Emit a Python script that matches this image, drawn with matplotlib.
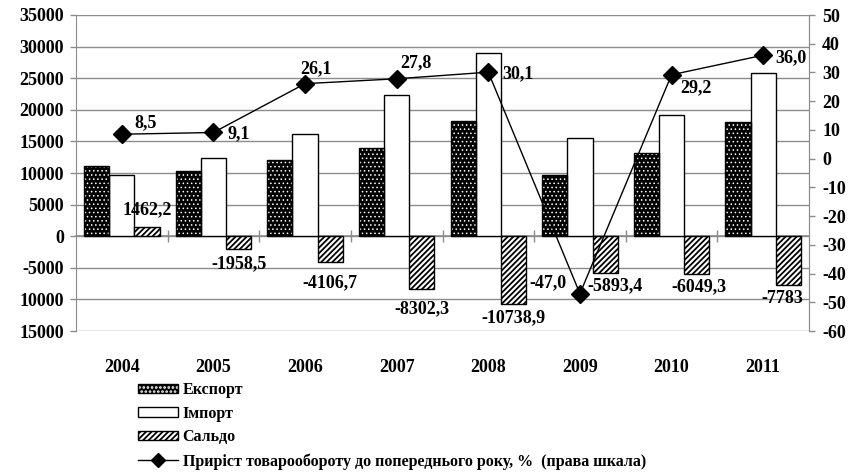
import matplotlib
matplotlib.use("Agg")
import matplotlib.pyplot as plt
import numpy as np
from matplotlib.patches import Patch
from matplotlib.lines import Line2D
from matplotlib.legend_handler import HandlerTuple

# ---- data ----
years = ['2004', '2005', '2006', '2007', '2008', '2009', '2010', '2011']
export = [11100, 10350, 12100, 14000, 18200, 9650, 13200, 18050]
imports = [9640, 12310, 16210, 22300, 28940, 15540, 19250, 25830]
saldo = [1462.2, -1958.5, -4106.7, -8302.3, -10738.9, -5893.4, -6049.3, -7783]
growth = [8.5, 9.1, 26.1, 27.8, 30.1, -47.0, 29.2, 36.0]
left_ticks = [-15000, -10000, -5000, 0, 5000, 10000, 15000, 20000, 25000, 30000, 35000]
left_tick_labels = ['15000', '10000', '-5000', '0', '5000', '10000', '15000',
                    '20000', '25000', '30000', '35000']
right_ticks = [-60, -50, -40, -30, -20, -10, 0, 10, 20, 30, 40, 50]
legend_labels = ['Експорт', 'Імпорт', 'Сальдо',
                 'Приріст товарообороту до попереднього року, %  (права шкала)']

plt.rcParams['font.family'] = ['Liberation Serif', 'DejaVu Serif']
plt.rcParams['font.weight'] = 'bold'
plt.rcParams['axes.unicode_minus'] = False

GRID = '#8c8c8c'
FS = 13
DOTS = '....'
STRIPES = '//////'

fig = plt.figure(figsize=(8.61, 4.73), dpi=100)
ax = fig.add_axes([76 / 861, 1 - 331 / 473, (809 - 76) / 861, (331 - 15) / 473])
x = np.arange(len(years))
w = 0.275

# export: black with white dots, outlined
plt.rcParams['hatch.linewidth'] = 0.6
ax.bar(x - w, export, w, color='black', edgecolor='white', hatch=DOTS, linewidth=0, zorder=2)
h_exp_fill = Patch(facecolor='black', edgecolor='white', hatch=DOTS, linewidth=0)
plt.rcParams['hatch.linewidth'] = 1.3
ax.bar(x - w, export, w, facecolor='none', edgecolor='black', linewidth=1.0, zorder=3)
ax.bar(x, imports, w, color='white', edgecolor='black', linewidth=1.0, zorder=2)
ax.bar(x + w, saldo, w, color='white', edgecolor='black', hatch=STRIPES, linewidth=1.0, zorder=2)

ax.set_xlim(-0.5, len(years) - 0.5)
ax.set_ylim(-15000, 35000)
ax.set_yticks(left_ticks)
ax.set_yticklabels(left_tick_labels)
ax.set_xticks(x)
ax.set_xticklabels(years)
ax.tick_params(axis='x', length=0, pad=20, labelsize=FS)
ax.tick_params(axis='y', length=4.5, color=GRID, width=1, pad=4, labelsize=FS)
ax.grid(axis='y', color=GRID, linewidth=1.0)
ax.set_axisbelow(True)
for s in ['top', 'bottom']:
    ax.spines[s].set_visible(False)
for s in ['left', 'right']:
    ax.spines[s].set_color(GRID)

# zero axis with category-boundary ticks
sec = ax.secondary_xaxis(0.3)
sec.set_xticks(np.arange(0.5, len(years) - 0.5, 1.0))
sec.tick_params(direction='inout', length=9, color=GRID, width=1, labelbottom=False)
sec.spines['bottom'].set_color(GRID)
sec.spines['bottom'].set_linewidth(1.2)

# saldo labels
saldo_off = [(0, 17), (0, -15), (0, -21), (0, -20), (0, -14), (10, -12), (2, -12), (-6, -13)]
for i, v in enumerate(saldo):
    lab = ('%g' % v).replace('.', ',')
    ax.annotate(lab, (x[i] + w, v), xytext=saldo_off[i], textcoords='offset pixels',
                ha='center', va='center', fontsize=FS, fontweight='bold', zorder=5)

# right axis
ax2 = ax.twinx()
ax2.set_ylim(-60, 50)
ax2.set_yticks(right_ticks)
ax2.tick_params(axis='y', length=4.5, color=GRID, width=1, pad=5, labelsize=FS)
for s in ['top', 'bottom', 'left']:
    ax2.spines[s].set_visible(False)
ax2.spines['right'].set_color(GRID)
ax2.plot(x, growth, color='black', linewidth=1.0, marker='D', markersize=9,
         markerfacecolor='black', markeredgecolor='black', zorder=4)
growth_off = [(24, 11), (25, -1), (11, 15), (19, 16), (30, -2), (-32, 11), (24, -13), (28, -3)]
for i, v in enumerate(growth):
    lab = ('%.1f' % v).replace('.', ',')
    ax2.annotate(lab, (x[i], v), xytext=growth_off[i], textcoords='offset pixels',
                 ha='center', va='center', fontsize=FS, fontweight='bold', zorder=5)

# legend
h_exp = (h_exp_fill, Patch(facecolor='none', edgecolor='black', linewidth=1.0))
h_imp = Patch(facecolor='white', edgecolor='black', linewidth=1.0)
h_sal = Patch(facecolor='white', edgecolor='black', hatch=STRIPES, linewidth=1.0)
h_line = Line2D([], [], color='black', linewidth=1.0, marker='D', markersize=7,
                markerfacecolor='black')
fig.legend([h_exp, h_imp, h_sal, h_line], legend_labels,
           handler_map={tuple: HandlerTuple(ndivide=1, pad=0)},
           loc='upper left', bbox_to_anchor=(138 / 861, 1 - 382 / 473),
           frameon=False, borderpad=0, borderaxespad=0, handlelength=2.5,
           handleheight=0.5, handletextpad=0.3, labelspacing=0.48,
           prop={'family': 'Liberation Serif', 'weight': 'bold', 'size': 11.5})

fig.savefig('out.png', dpi=100)
